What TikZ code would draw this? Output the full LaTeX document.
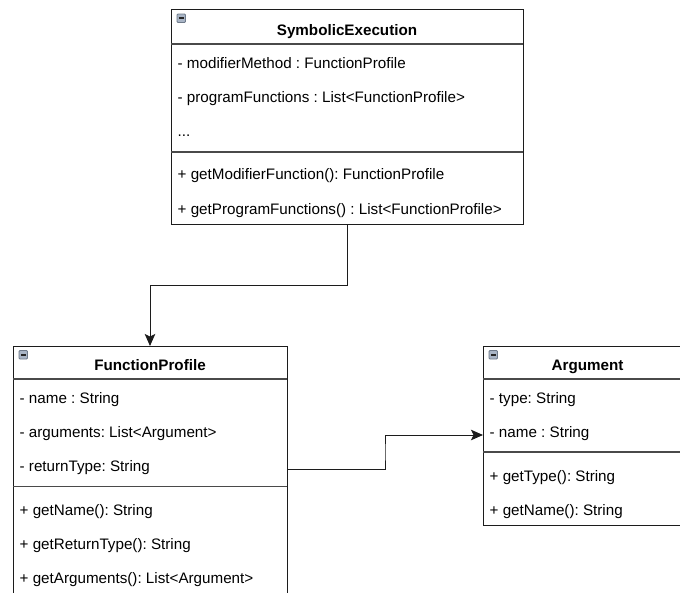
\documentclass[tikz,border=0pt]{standalone}
\usepackage{fontspec}
\setmainfont{Liberation Sans}
\usetikzlibrary{calc,arrows.meta}
\frenchspacing

\definecolor{edge}{HTML}{1C1C1C}
\definecolor{sepline}{HTML}{4A4A4A}
\definecolor{iconfill}{HTML}{A9B5C6}
\definecolor{iconedge}{HTML}{6E7A8A}

\tikzset{
  classbox/.style={draw=edge, line width=1pt, fill=white, rectangle,
    inner sep=0pt, outer sep=0pt, anchor=north west},
  sep/.style={draw=sepline, line width=1.4pt},
  title/.style={anchor=base, inner sep=0pt, font=\fontsize{15.2}{18}\selectfont\bfseries},
  member/.style={anchor=base west, inner sep=0pt, font=\fontsize{15.2}{18}\selectfont},
  link/.style={draw=edge, line width=1pt, -{Stealth[length=12pt,width=10.5pt,inset=2.5pt]}}
}

% little collapse marker in a class header
\newcommand{\collapsemark}[1]{%
  \draw[iconedge, fill=iconfill, line width=0.8pt, rounded corners=1pt]
    ($(#1.north west)+(6,4.5)$) rectangle ++(8.5,8.5);
  \draw[black!85, line width=1.8pt]
    ($(#1.north west)+(7.8,8.75)$) -- ++(4.9,0);
}

\begin{document}
\begin{tikzpicture}[x=1pt, y=-1pt]
\useasboundingbox (0,0) rectangle (680,592);
\clip (0,0) rectangle (680,592);
\fill[white] (0,0) rectangle (680,592);

% ---------- SymbolicExecution ----------
\node[classbox, minimum width=352pt, minimum height=215pt] (se) at (171,9.5) {};
\draw[sep] (171,44) -- (523,44);
\draw[sep] (171,152) -- (523,152);
\collapsemark{se}
\node[title] (se-t) at (347,35) {SymbolicExecution};
\node[member] (se-a1) at (177.5,68.5) {- modifierMethod : FunctionProfile};
\node[member] (se-a2) at (177.5,102.5) {- programFunctions : List<FunctionProfile>};
\node[member] (se-a3) at (177.5,136.5) {...};
\node[member] (se-m1) at (177.5,179.5) {+ getModifierFunction(): FunctionProfile};
\node[member] (se-m2) at (177.5,214) {+ getProgramFunctions() : List<FunctionProfile>};

% ---------- FunctionProfile ----------
\node[classbox, minimum width=274pt, minimum height=260pt] (fp) at (13,346) {};
\draw[sep] (13,379) -- (287,379);
\draw[sep] (13,486.5) -- (287,486.5);
\collapsemark{fp}
\node[title] (fp-t) at (150,370) {FunctionProfile};
\node[member] (fp-a1) at (19.5,403.5) {- name : String};
\node[member] (fp-a2) at (19.5,437.5) {- arguments: List<Argument>};
\node[member] (fp-a3) at (19.5,471.5) {- returnType: String};
\node[member] (fp-m1) at (19.5,515.5) {+ getName(): String};
\node[member] (fp-m2) at (19.5,549.5) {+ getReturnType(): String};
\node[member] (fp-m3) at (19.5,583.5) {+ getArguments(): List<Argument>};

% ---------- Argument ----------
\node[classbox, minimum width=209pt, minimum height=179.5pt] (ar) at (483,346) {};
\draw[sep] (483,379) -- (692,379);
\draw[sep] (483,452) -- (692,452);
\collapsemark{ar}
\node[title] (ar-t) at (587.5,370) {Argument};
\node[member] (ar-a1) at (489.5,403.5) {- type: String};
\node[member] (ar-a2) at (489.5,437.5) {- name : String};
\node[member] (ar-m1) at (489.5,481.5) {+ getType(): String};
\node[member] (ar-m2) at (489.5,515.5) {+ getName(): String};

% ---------- connectors ----------
\draw[link] (se.south) |- ($(se.south)!0.5!(fp.north)$) -| (fp.north);

\coordinate (fpout) at ($(fp.east |- fp-a3.base)+(0,-2.5)$);
\coordinate (arin) at ($(ar.west |- ar-a2.base)+(0,-2.5)$);
\draw[link] (fpout) -| ($(fpout)!0.5!(arin)$) |- (arin);
\end{tikzpicture}
\end{document}
